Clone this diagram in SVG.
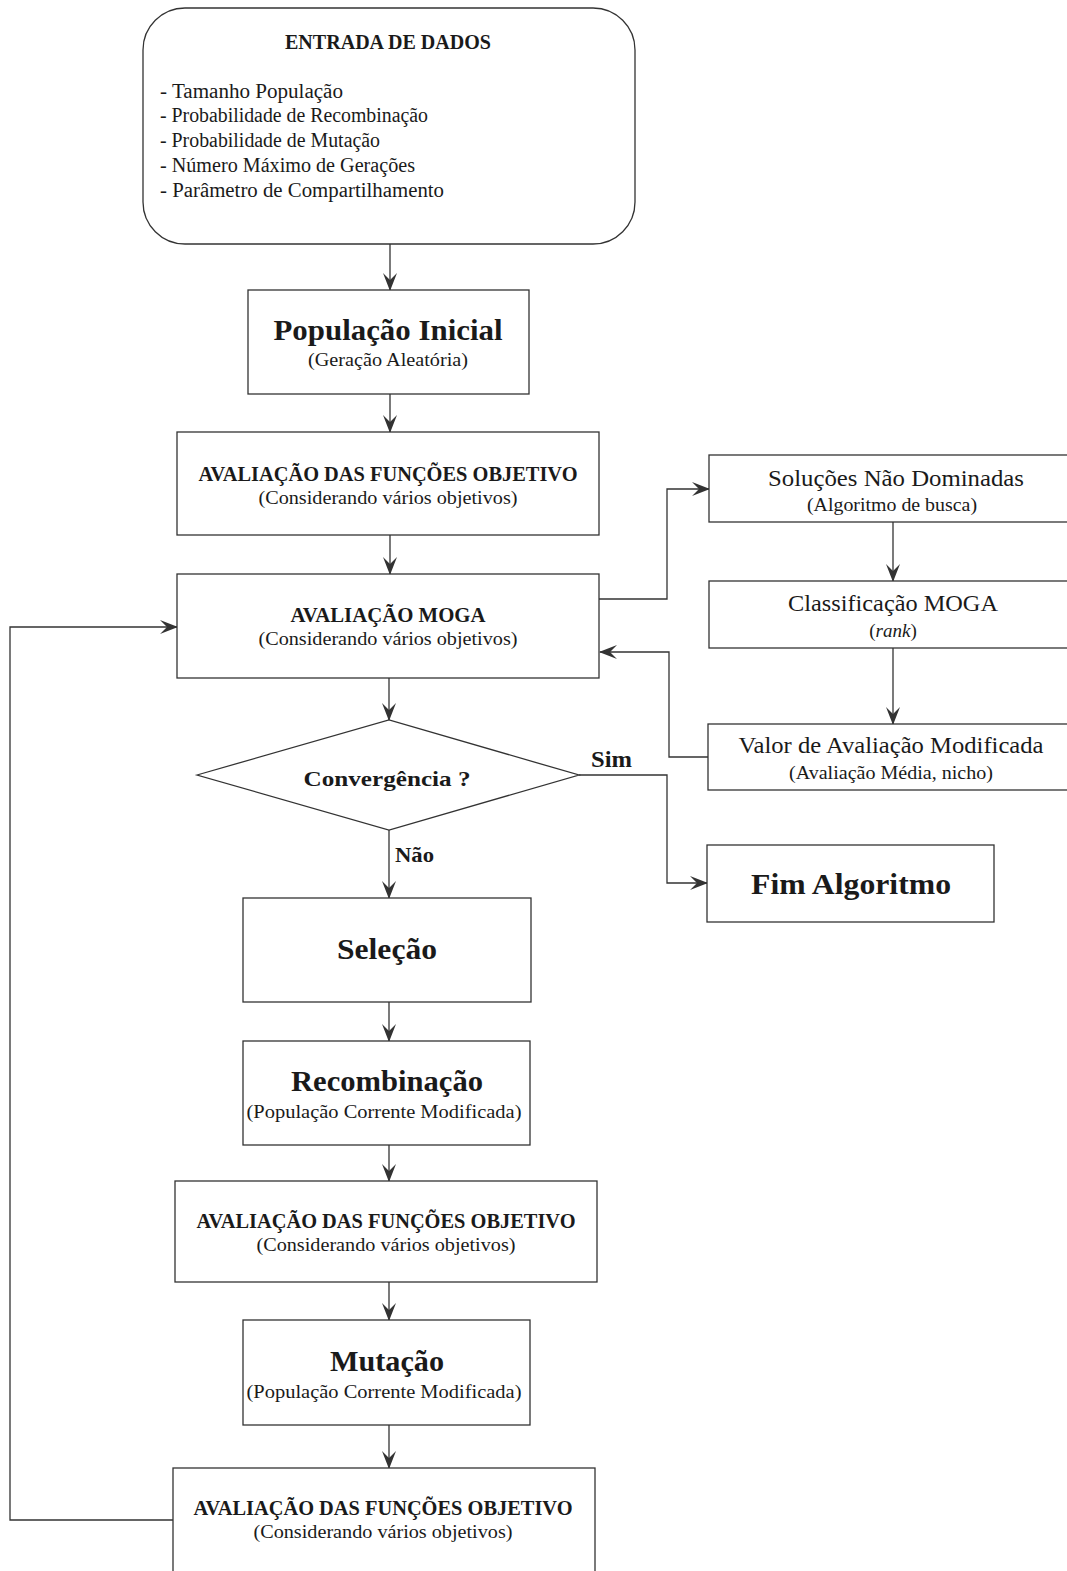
<svg xmlns="http://www.w3.org/2000/svg" width="1067" height="1571" viewBox="0 0 1067 1571">
<style>
.box{fill:#fff;stroke:#333;stroke-width:1.3}
.ln{fill:none;stroke:#333;stroke-width:1.3}
text{font-family:"Liberation Serif","Times New Roman",serif;fill:#1a1a1a}
.b{font-weight:bold}
.t28{font-size:29px;font-weight:bold;text-anchor:middle}
.t20{font-size:20px;font-weight:bold;text-anchor:middle}
.s{font-size:19px;text-anchor:middle}
.r23{font-size:23px;text-anchor:middle}
.li{font-size:20px}
</style>
<defs>
<marker id="ah" viewBox="0 0 18 14" refX="17" refY="7" markerWidth="18" markerHeight="14" markerUnits="userSpaceOnUse" orient="auto">
<path d="M0,0 L18,7 L0,14 L7,7 z" fill="#333"/>
</marker>
</defs>
<rect width="1067" height="1571" fill="#fff"/>

<g id="connectors">
<line class="ln" x1="390" y1="244" x2="390" y2="290" marker-end="url(#ah)"/>
<line class="ln" x1="390" y1="394" x2="390" y2="432" marker-end="url(#ah)"/>
<line class="ln" x1="390" y1="535" x2="390" y2="574" marker-end="url(#ah)"/>
<line class="ln" x1="389" y1="678" x2="389" y2="720" marker-end="url(#ah)"/>
<line class="ln" x1="389" y1="830" x2="389" y2="898" marker-end="url(#ah)"/>
<line class="ln" x1="389" y1="1002" x2="389" y2="1041" marker-end="url(#ah)"/>
<line class="ln" x1="389" y1="1145" x2="389" y2="1181" marker-end="url(#ah)"/>
<line class="ln" x1="389" y1="1282" x2="389" y2="1320" marker-end="url(#ah)"/>
<line class="ln" x1="389" y1="1425" x2="389" y2="1468" marker-end="url(#ah)"/>
<polyline class="ln" points="579,775 667,775 667,883 707,883" marker-end="url(#ah)"/>
<polyline class="ln" points="599,599 667,599 667,489 709,489" marker-end="url(#ah)"/>
<line class="ln" x1="893" y1="522" x2="893" y2="581" marker-end="url(#ah)"/>
<line class="ln" x1="893" y1="648" x2="893" y2="724" marker-end="url(#ah)"/>
<polyline class="ln" points="708,757 669,757 669,652 600,652" marker-end="url(#ah)"/>
<polyline class="ln" points="173,1520 10,1520 10,627 177,627" marker-end="url(#ah)"/>
<text class="b" x="591" y="767" font-size="23" textLength="41" lengthAdjust="spacingAndGlyphs">Sim</text>
<text class="b" x="395" y="862" font-size="22" textLength="39" lengthAdjust="spacingAndGlyphs">Não</text>
</g>

<g id="entrada">
<rect class="box" x="143" y="8" width="492" height="236" rx="42" ry="42"/>
<text class="t20" x="388" y="49" font-size="19" textLength="206" lengthAdjust="spacingAndGlyphs">ENTRADA DE DADOS</text>
<text class="li" x="160" y="98" textLength="183" lengthAdjust="spacingAndGlyphs">- Tamanho População</text>
<text class="li" x="160" y="122" textLength="268" lengthAdjust="spacingAndGlyphs">- Probabilidade de Recombinação</text>
<text class="li" x="160" y="147" textLength="220" lengthAdjust="spacingAndGlyphs">- Probabilidade de Mutação</text>
<text class="li" x="160" y="172" textLength="255" lengthAdjust="spacingAndGlyphs">- Número Máximo de Gerações</text>
<text class="li" x="160" y="197" textLength="284" lengthAdjust="spacingAndGlyphs">- Parâmetro de Compartilhamento</text>
</g>

<g id="pop-inicial">
<rect class="box" x="248" y="290" width="281" height="104"/>
<text class="t28" x="388" y="340" textLength="229" lengthAdjust="spacingAndGlyphs">População Inicial</text>
<text class="s" x="388" y="366" textLength="160" lengthAdjust="spacingAndGlyphs">(Geração Aleatória)</text>
</g>

<g id="aval-1">
<rect class="box" x="177" y="432" width="422" height="103"/>
<text class="t20" x="388" y="481" textLength="379" lengthAdjust="spacingAndGlyphs">AVALIAÇÃO DAS FUNÇÕES OBJETIVO</text>
<text class="s" x="388" y="504" textLength="259" lengthAdjust="spacingAndGlyphs">(Considerando vários objetivos)</text>
</g>

<g id="aval-moga">
<rect class="box" x="177" y="574" width="422" height="104"/>
<text class="t20" x="388" y="622" textLength="195" lengthAdjust="spacingAndGlyphs">AVALIAÇÃO MOGA</text>
<text class="s" x="388" y="645" textLength="259" lengthAdjust="spacingAndGlyphs">(Considerando vários objetivos)</text>
</g>

<g id="convergencia">
<polygon class="box" points="197,775 389,720 579,775 389,830"/>
<text class="b" x="387" y="786" font-size="22" text-anchor="middle" textLength="167" lengthAdjust="spacingAndGlyphs">Convergência ?</text>
</g>

<g id="fim">
<rect class="box" x="707" y="845" width="287" height="77"/>
<text class="t28" x="851" y="894" textLength="200" lengthAdjust="spacingAndGlyphs">Fim Algoritmo</text>
</g>

<g id="selecao">
<rect class="box" x="243" y="898" width="288" height="104"/>
<text class="t28" x="387" y="959" textLength="100" lengthAdjust="spacingAndGlyphs">Seleção</text>
</g>

<g id="recombinacao">
<rect class="box" x="243" y="1041" width="287" height="104"/>
<text class="t28" x="387" y="1091" textLength="192" lengthAdjust="spacingAndGlyphs">Recombinação</text>
<text class="s" x="384" y="1118" textLength="275" lengthAdjust="spacingAndGlyphs">(População Corrente Modificada)</text>
</g>

<g id="aval-2">
<rect class="box" x="175" y="1181" width="422" height="101"/>
<text class="t20" x="386" y="1228" textLength="379" lengthAdjust="spacingAndGlyphs">AVALIAÇÃO DAS FUNÇÕES OBJETIVO</text>
<text class="s" x="386" y="1251" textLength="259" lengthAdjust="spacingAndGlyphs">(Considerando vários objetivos)</text>
</g>

<g id="mutacao">
<rect class="box" x="243" y="1320" width="287" height="105"/>
<text class="t28" x="387" y="1371" textLength="114" lengthAdjust="spacingAndGlyphs">Mutação</text>
<text class="s" x="384" y="1398" textLength="275" lengthAdjust="spacingAndGlyphs">(População Corrente Modificada)</text>
</g>

<g id="aval-3">
<rect class="box" x="173" y="1468" width="422" height="110"/>
<text class="t20" x="383" y="1515" textLength="379" lengthAdjust="spacingAndGlyphs">AVALIAÇÃO DAS FUNÇÕES OBJETIVO</text>
<text class="s" x="383" y="1538" textLength="259" lengthAdjust="spacingAndGlyphs">(Considerando vários objetivos)</text>
</g>

<g id="solucoes">
<rect class="box" x="709" y="455" width="370" height="67"/>
<text class="r23" x="896" y="486" textLength="256" lengthAdjust="spacingAndGlyphs">Soluções Não Dominadas</text>
<text class="s" x="892" y="511" textLength="170" lengthAdjust="spacingAndGlyphs">(Algoritmo de busca)</text>
</g>

<g id="classificacao">
<rect class="box" x="709" y="581" width="370" height="67"/>
<text class="r23" x="893" y="611" textLength="210" lengthAdjust="spacingAndGlyphs">Classificação MOGA</text>
<text class="s" x="893" y="637">(<tspan font-style="italic">rank</tspan>)</text>
</g>

<g id="valor">
<rect class="box" x="708" y="724" width="371" height="66"/>
<text class="r23" x="891" y="753" textLength="305" lengthAdjust="spacingAndGlyphs">Valor de Avaliação Modificada</text>
<text class="s" x="891" y="779" textLength="204" lengthAdjust="spacingAndGlyphs">(Avaliação Média, nicho)</text>
</g>
</svg>
